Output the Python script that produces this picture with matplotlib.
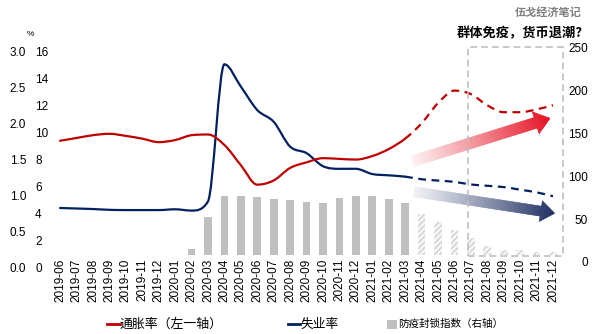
import numpy as np
import matplotlib
matplotlib.use("Agg")
import matplotlib.pyplot as plt
import matplotlib.colors as mcolors
import matplotlib.transforms as mtransforms
from matplotlib.path import Path
from matplotlib.patches import PathPatch, Rectangle
from matplotlib.collections import PolyCollection
from matplotlib.lines import Line2D

plt.rcParams['font.family'] = ['Liberation Sans', 'Noto Sans CJK SC', 'DejaVu Sans']
plt.rcParams['hatch.linewidth'] = 0.6

# ---------------- data ----------------
months = ['2019-06', '2019-07', '2019-08', '2019-09', '2019-10', '2019-11', '2019-12',
          '2020-01', '2020-02', '2020-03', '2020-04', '2020-05', '2020-06', '2020-07',
          '2020-08', '2020-09', '2020-10', '2020-11', '2020-12',
          '2021-01', '2021-02', '2021-03', '2021-04', '2021-05', '2021-06', '2021-07',
          '2021-08', '2021-09', '2021-10', '2021-11', '2021-12']
inflation = [1.64, 1.68, 1.72, 1.74, 1.71, 1.67, 1.62,
             1.65, 1.72, 1.73, 1.58, 1.29, 1.01, 1.07, 1.25, 1.33, 1.39, 1.38, 1.37,
             1.42, 1.52, 1.67, 1.89, 2.18, 2.36, 2.31, 2.15, 2.05, 2.05, 2.09, 2.15]
unemployment = [3.60, 3.56, 3.52, 3.46, 3.44, 3.44, 3.44,
                3.50, 3.40, 4.10, 14.6, 12.9, 11.1, 10.2, 8.3, 7.8, 6.8, 6.6, 6.6,
                6.2, 6.1, 6.0, 5.8, 5.7, 5.6, 5.4, 5.3, 5.2, 5.0, 4.8, 4.5]
lockdown = [0, 0, 0, 0, 0, 0, 0,
            0, 6.8, 45, 71, 71, 69.4, 66.6, 65.4, 63, 62.6, 68, 70,
            70, 66.6, 62.6, 49.4, 39.5, 29.9, 20.7, 10.8, 6.4, 6.0, 3.6, 3.2]
forecast_start = 21   # 2021-03: last actual observation

infl_ticks = [0.0, 0.5, 1.0, 1.5, 2.0, 2.5, 3.0]
unemp_ticks = [0, 2, 4, 6, 8, 10, 12, 14, 16]
lock_ticks = [0, 50, 100, 150, 200, 250]

legend_labels = ['通胀率（左一轴）', '失业率', '防疫封锁指数（右轴）']

RED = '#C00000'
NAVY = '#002060'
GRAY = '#BFBFBF'
CJK = ['Noto Sans CJK SC', 'DejaVu Sans']

# ---------------- figure ----------------
W, H = 600, 334
fig = plt.figure(figsize=(W / 100, H / 100), dpi=100)
rect = [0.081, 0.2365, 0.8625, 0.6257]
axb = fig.add_axes(rect)
axu = axb.twinx()
axi = axb.twinx()

x = np.arange(len(months))
axb.set_xlim(-0.7, 30.8)
axb.set_ylim(0, 250)
axu.set_ylim(0, 16)
axi.set_ylim(0, 3)

for a in (axb, axu, axi):
    for s in a.spines.values():
        s.set_visible(False)

# bars
lock = np.array(lockdown, dtype=float)
act = x <= forecast_start
axb.bar(x[act], lock[act], width=0.47, color=GRAY, linewidth=0, zorder=2)
axb.bar(x[~act], lock[~act], width=0.47, facecolor='#F4F4F4', edgecolor='#BEBEBE',
        hatch='//////', linewidth=0, zorder=2)


def smooth_path(xs, ys, i0, i1):
    """Monotone cubic (Fritsch-Carlson) curve through the points, as Bezier path."""
    xs = np.asarray(xs, float)
    ys = np.asarray(ys, float)
    n = len(ys)
    h = np.diff(xs)
    d = np.diff(ys) / h
    m = np.zeros(n)
    m[0], m[-1] = d[0], d[-1]
    for k in range(1, n - 1):
        if d[k - 1] * d[k] <= 0:
            m[k] = 0.0
        else:
            m[k] = (d[k - 1] + d[k]) / 2.0
    for k in range(n - 1):
        if d[k] == 0:
            m[k] = m[k + 1] = 0.0
            continue
        a, b = m[k] / d[k], m[k + 1] / d[k]
        s = a * a + b * b
        if s > 9:
            t = 3.0 / np.sqrt(s)
            m[k], m[k + 1] = t * a * d[k], t * b * d[k]
    verts = [(xs[i0], ys[i0])]
    codes = [Path.MOVETO]
    for k in range(i0, i1):
        hk = h[k]
        verts += [(xs[k] + hk / 3, ys[k] + m[k] * hk / 3),
                  (xs[k + 1] - hk / 3, ys[k + 1] - m[k + 1] * hk / 3),
                  (xs[k + 1], ys[k + 1])]
        codes += [Path.CURVE4] * 3
    return Path(verts, codes)


def draw_series(ax, ys, color):
    n = len(ys)
    solid = PathPatch(smooth_path(x, ys, 0, forecast_start), fill=False,
                      edgecolor=color, lw=1.6, capstyle='round', zorder=4)
    dashed = PathPatch(smooth_path(x, ys, forecast_start, n - 1), fill=False,
                       edgecolor=color, lw=1.6, linestyle=(0, (3.5, 2.5)), zorder=4)
    ax.add_patch(solid)
    ax.add_patch(dashed)


draw_series(axi, inflation, RED)
draw_series(axu, unemployment, NAVY)


def gradient_arrow(ax, p0, p1, shaft_w, head_w, head_len, color, f0=0.06, n=90, zorder=3):
    d0 = ax.transData.transform(p0)
    d1 = ax.transData.transform(p1)
    v = d1 - d0
    L = np.hypot(*v)
    u = v / L
    nrm = np.array([-u[1], u[0]])
    Ls = L - head_len
    ts = np.unique(np.concatenate([np.linspace(0, L, n + 1), [Ls]]))
    rgb = np.array(mcolors.to_rgb(color))
    inv = ax.transData.inverted()

    def hw(t, in_head):
        if not in_head:
            return shaft_w / 2.0
        return head_w / 2.0 * (L - t) / head_len

    polys, cols = [], []
    for a, b in zip(ts[:-1], ts[1:]):
        in_head = a >= Ls - 1e-9
        wa, wb = hw(a, in_head), hw(b, in_head)
        q = np.array([d0 + u * a + nrm * wa, d0 + u * b + nrm * wb,
                      d0 + u * b - nrm * wb, d0 + u * a - nrm * wa])
        polys.append(inv.transform(q))
        f = f0 + (1 - f0) * ((a + b) / 2.0 / L) ** 1.1
        cols.append(tuple(1 - f * (1 - rgb)))
    pc = PolyCollection(polys, facecolors=cols, edgecolors=cols, linewidths=0.4,
                        zorder=zorder, clip_on=False)
    ax.add_collection(pc)


# annotation arrows (in data coords of the inflation axis)
gradient_arrow(axi, (21.45, 1.345), (29.82, 1.962), 11, 23, 15, '#E50C1E')
gradient_arrow(axi, (21.55, 0.909), (30.10, 0.599), 10, 21, 14, '#1B2C60')

# forecast box
blend = mtransforms.blended_transform_factory(axi.transData, axi.transAxes)
box = Rectangle((24.85, -0.006), 5.75, 1.0, transform=blend, fill=False,
                edgecolor=GRAY, lw=1.2, linestyle=(0, (4, 2.5)), clip_on=False, zorder=6)
axi.add_patch(box)

# ---------------- axes ticks ----------------
axb.set_xticks(x)
axb.set_xticklabels(months, rotation=90, fontsize=8.5)
axb.tick_params(axis='x', length=0, pad=2.5)

axi.yaxis.set_ticks_position('left')
axi.set_yticks(infl_ticks)
axi.set_yticklabels(['%.1f' % t for t in infl_ticks], fontsize=8.5)
axi.tick_params(axis='y', length=0, pad=16.2)

axu.yaxis.set_ticks_position('left')
axu.yaxis.set_label_position('left')
axu.set_yticks(unemp_ticks)
axu.set_yticklabels([str(t) for t in unemp_ticks], fontsize=8.5)
axu.tick_params(axis='y', length=0, pad=9.7)

axb.yaxis.set_ticks_position('right')
axb.set_yticks(lock_ticks)
axb.set_yticklabels([str(t) for t in lock_ticks], fontsize=8.5)
axb.tick_params(axis='y', length=0, pad=15.8)

# tick labels sit slightly lower / more spread than the plot area (as in source)
bottom_px = rect[1] * H
top_px = (rect[1] + rect[3]) * H


def label_shift(bot_img, top_img):
    b2 = H - bot_img
    t2 = H - top_img
    sc = (t2 - b2) / (top_px - bottom_px)
    return mtransforms.Affine2D().translate(0, -bottom_px).scale(1, sc).translate(0, b2)


left_tf = label_shift(267, 52)
right_tf = label_shift(262, 48)
for lab in axi.get_yticklabels():
    lab.set_transform(lab.get_transform() + left_tf)
for lab in axu.get_yticklabels():
    lab.set_ha('left')
    lab.set_transform(lab.get_transform() + left_tf)
for lab in axb.get_yticklabels():
    lab.set_ha('right')
    lab.set_transform(lab.get_transform() + right_tf)

# ---------------- texts ----------------
fig.text(0.05, 0.898, '%', fontsize=6, ha='center', va='center')
fig.text(0.972, 0.901, '群体免疫，货币退潮?', fontsize=9.5, fontweight='bold',
         ha='right', va='center', family=CJK)
fig.text(0.970, 0.964, '伍戈经济笔记', fontsize=8, color='#7F7F7F', fontweight='bold',
         ha='right', va='center', family=CJK)

# ---------------- legend (manual placement) ----------------
ly = 1 - 324 / H
tf = fig.transFigure
fig.add_artist(Line2D([106.7 / W, 119.5 / W], [ly, ly], color=RED, lw=2, transform=tf))
fig.add_artist(Line2D([288 / W, 299.5 / W], [ly, ly], color=NAVY, lw=2, transform=tf))
fig.add_artist(Rectangle((387 / W, ly - 4.5 / H), 10 / W, 9 / H, facecolor=GRAY,
                         edgecolor='none', transform=tf))
leg_texts = [fig.text(120 / W, ly, legend_labels[0], fontsize=9.3, ha='left', va='center', family=CJK),
             fig.text(300 / W, ly, legend_labels[1], fontsize=9.3, ha='left', va='center', family=CJK),
             fig.text(398 / W, ly, legend_labels[2], fontsize=8.5, ha='left', va='center', family=CJK)]
target_w = [103, 38, 105]
renderer = fig.canvas.get_renderer()
for t, tw in zip(leg_texts, target_w):
    w = t.get_window_extent(renderer).width
    if w > 0:
        t.set_fontsize(min(9.5, t.get_fontsize() * tw / w))

fig.savefig('out.png', dpi=100)
